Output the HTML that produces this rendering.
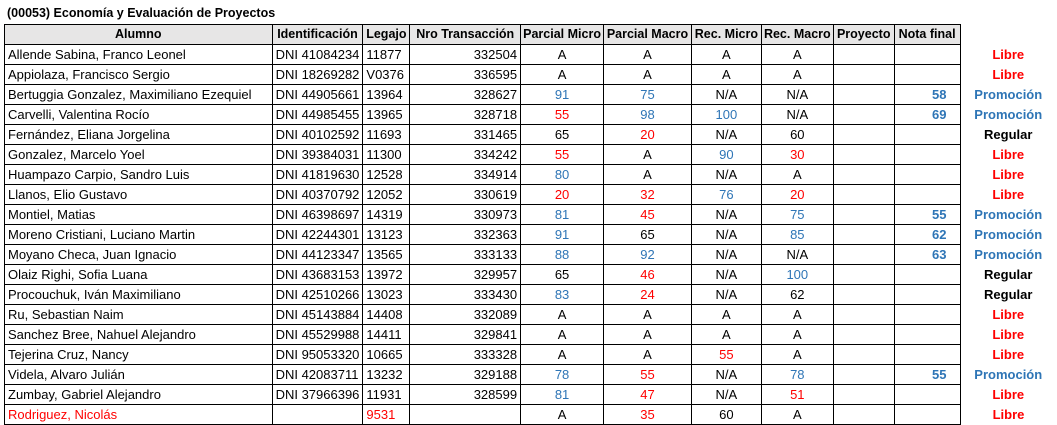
<!DOCTYPE html>
<html><head><meta charset="utf-8"><style>
body{margin:0;width:1057px;height:425px;background:#fff;position:relative;overflow:hidden;font-family:"Liberation Sans",Arial,sans-serif;font-size:13px;color:#000}
.t{position:absolute;left:7px;top:6px;font-weight:bold;font-size:12.5px}
table{position:absolute;left:4px;top:24px;border-collapse:collapse;table-layout:fixed}
td,th{border:1px solid #000;height:19px;padding:0 3px;white-space:nowrap;overflow:hidden;line-height:19px}
th{background:#e7e6e6;font-weight:bold;text-align:center;padding:0 1px;font-size:12.5px}
.l{text-align:left}.r{text-align:right}.c{text-align:center}
.s{border:none;text-align:center;font-weight:bold}
.b{color:#2e75b6}.R{color:#ff0000}
.n{text-align:right;font-weight:bold;color:#2e75b6;padding-right:13px}
</style></head><body>
<div class="t">(00053) Economía y Evaluación de Proyectos</div>
<table>
<colgroup><col style="width:268px"><col style="width:90px"><col style="width:47px"><col style="width:111px"><col style="width:83px"><col style="width:88px"><col style="width:70px"><col style="width:72px"><col style="width:61px"><col style="width:66px"><col style="width:97px"></colgroup>
<tr><th>Alumno</th><th>Identificación</th><th>Legajo</th><th>Nro Transacción</th><th>Parcial Micro</th><th>Parcial Macro</th><th>Rec. Micro</th><th>Rec. Macro</th><th>Proyecto</th><th>Nota final</th><th class="s" style="background:#fff"></th></tr>
<tr><td>Allende Sabina, Franco Leonel</td><td>DNI 41084234</td><td>11877</td><td class="r">332504</td><td class="c">A</td><td class="c">A</td><td class="c">A</td><td class="c">A</td><td></td><td></td><td class="s R">Libre</td></tr>
<tr><td>Appiolaza, Francisco Sergio</td><td>DNI 18269282</td><td>V0376</td><td class="r">336595</td><td class="c">A</td><td class="c">A</td><td class="c">A</td><td class="c">A</td><td></td><td></td><td class="s R">Libre</td></tr>
<tr><td>Bertuggia Gonzalez, Maximiliano Ezequiel</td><td>DNI 44905661</td><td>13964</td><td class="r">328627</td><td class="c b">91</td><td class="c b">75</td><td class="c">N/A</td><td class="c">N/A</td><td></td><td class="n">58</td><td class="s b">Promoción</td></tr>
<tr><td>Carvelli, Valentina Rocío</td><td>DNI 44985455</td><td>13965</td><td class="r">328718</td><td class="c R">55</td><td class="c b">98</td><td class="c b">100</td><td class="c">N/A</td><td></td><td class="n">69</td><td class="s b">Promoción</td></tr>
<tr><td>Fernández, Eliana Jorgelina</td><td>DNI 40102592</td><td>11693</td><td class="r">331465</td><td class="c">65</td><td class="c R">20</td><td class="c">N/A</td><td class="c">60</td><td></td><td></td><td class="s">Regular</td></tr>
<tr><td>Gonzalez, Marcelo Yoel</td><td>DNI 39384031</td><td>11300</td><td class="r">334242</td><td class="c R">55</td><td class="c">A</td><td class="c b">90</td><td class="c R">30</td><td></td><td></td><td class="s R">Libre</td></tr>
<tr><td>Huampazo Carpio, Sandro Luis</td><td>DNI 41819630</td><td>12528</td><td class="r">334914</td><td class="c b">80</td><td class="c">A</td><td class="c">N/A</td><td class="c">A</td><td></td><td></td><td class="s R">Libre</td></tr>
<tr><td>Llanos, Elio Gustavo</td><td>DNI 40370792</td><td>12052</td><td class="r">330619</td><td class="c R">20</td><td class="c R">32</td><td class="c b">76</td><td class="c R">20</td><td></td><td></td><td class="s R">Libre</td></tr>
<tr><td>Montiel, Matias</td><td>DNI 46398697</td><td>14319</td><td class="r">330973</td><td class="c b">81</td><td class="c R">45</td><td class="c">N/A</td><td class="c b">75</td><td></td><td class="n">55</td><td class="s b">Promoción</td></tr>
<tr><td>Moreno Cristiani, Luciano Martin</td><td>DNI 42244301</td><td>13123</td><td class="r">332363</td><td class="c b">91</td><td class="c">65</td><td class="c">N/A</td><td class="c b">85</td><td></td><td class="n">62</td><td class="s b">Promoción</td></tr>
<tr><td>Moyano Checa, Juan Ignacio</td><td>DNI 44123347</td><td>13565</td><td class="r">333133</td><td class="c b">88</td><td class="c b">92</td><td class="c">N/A</td><td class="c">N/A</td><td></td><td class="n">63</td><td class="s b">Promoción</td></tr>
<tr><td>Olaiz Righi, Sofia Luana</td><td>DNI 43683153</td><td>13972</td><td class="r">329957</td><td class="c">65</td><td class="c R">46</td><td class="c">N/A</td><td class="c b">100</td><td></td><td></td><td class="s">Regular</td></tr>
<tr><td>Procouchuk, Iván Maximiliano</td><td>DNI 42510266</td><td>13023</td><td class="r">333430</td><td class="c b">83</td><td class="c R">24</td><td class="c">N/A</td><td class="c">62</td><td></td><td></td><td class="s">Regular</td></tr>
<tr><td>Ru, Sebastian Naim</td><td>DNI 45143884</td><td>14408</td><td class="r">332089</td><td class="c">A</td><td class="c">A</td><td class="c">A</td><td class="c">A</td><td></td><td></td><td class="s R">Libre</td></tr>
<tr><td>Sanchez Bree, Nahuel Alejandro</td><td>DNI 45529988</td><td>14411</td><td class="r">329841</td><td class="c">A</td><td class="c">A</td><td class="c">A</td><td class="c">A</td><td></td><td></td><td class="s R">Libre</td></tr>
<tr><td>Tejerina Cruz, Nancy</td><td>DNI 95053320</td><td>10665</td><td class="r">333328</td><td class="c">A</td><td class="c">A</td><td class="c R">55</td><td class="c">A</td><td></td><td></td><td class="s R">Libre</td></tr>
<tr><td>Videla, Alvaro Julián</td><td>DNI 42083711</td><td>13232</td><td class="r">329188</td><td class="c b">78</td><td class="c R">55</td><td class="c">N/A</td><td class="c b">78</td><td></td><td class="n">55</td><td class="s b">Promoción</td></tr>
<tr><td>Zumbay, Gabriel Alejandro</td><td>DNI 37966396</td><td>11931</td><td class="r">328599</td><td class="c b">81</td><td class="c R">47</td><td class="c">N/A</td><td class="c R">51</td><td></td><td></td><td class="s R">Libre</td></tr>
<tr><td class="R">Rodriguez, Nicolás</td><td></td><td class="R">9531</td><td></td><td class="c">A</td><td class="c R">35</td><td class="c">60</td><td class="c">A</td><td></td><td></td><td class="s R">Libre</td></tr>
</table>
</body></html>
